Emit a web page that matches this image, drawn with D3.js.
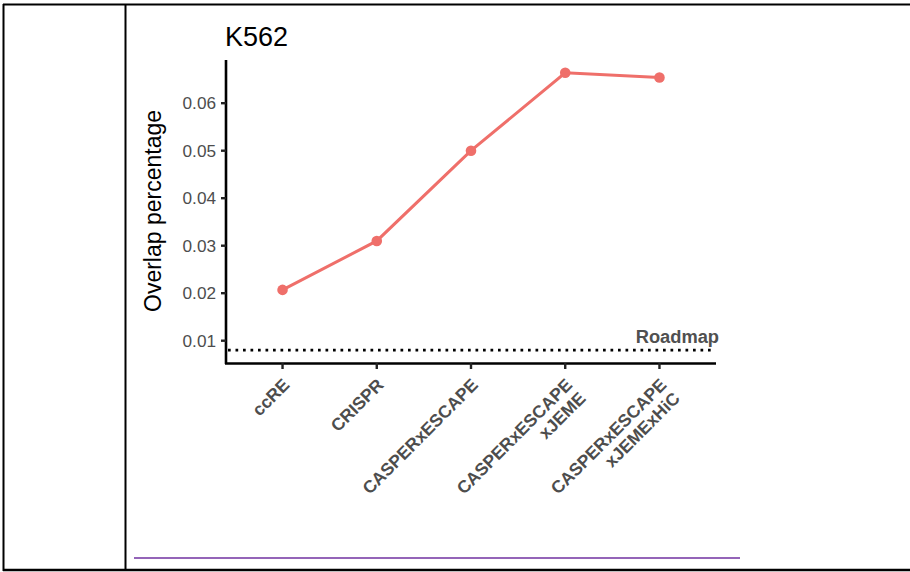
<!DOCTYPE html>
<html><head><meta charset="utf-8">
<script src="https://cdn.jsdelivr.net/npm/d3@7"></script>
<style>body{margin:0;background:#fff}svg{display:block}</style>
</head><body>
<svg id="c" width="910" height="572"></svg>
<script>
const categories = [["ccRE"],["CRISPR"],["CASPERxESCAPE"],["CASPERxESCAPE","xJEME"],["CASPERxESCAPE","xJEMExHiC"]];
const values = [0.0207, 0.031, 0.050, 0.0664, 0.0654];
const yTicks = [0.01, 0.02, 0.03, 0.04, 0.05, 0.06];
const roadmap = 0.0080;
const title = "K562";
const yLabel = "Overlap percentage";
const refLabel = "Roadmap";

const svg = d3.select("#c");
const font = "Arial, 'Liberation Sans', sans-serif";

// table frame
svg.append("line").attr("x1",3).attr("x2",910).attr("y1",4.5).attr("y2",4.5).attr("stroke","#000").attr("stroke-width",2);
svg.append("line").attr("x1",3.5).attr("x2",3.5).attr("y1",4).attr("y2",571).attr("stroke","#000").attr("stroke-width",2);
svg.append("line").attr("x1",125.5).attr("x2",125.5).attr("y1",4).attr("y2",571).attr("stroke","#000").attr("stroke-width",2);
svg.append("line").attr("x1",3).attr("x2",910).attr("y1",570).attr("y2",570).attr("stroke","#000").attr("stroke-width",2.5);
svg.append("line").attr("x1",134).attr("x2",740).attr("y1",558).attr("y2",558).attr("stroke","#7030a0").attr("stroke-width",1.3);

const x = d3.scalePoint().domain(d3.range(categories.length)).range([226,716]).padding(0.6);
const y = d3.scaleLinear().domain([0.0,0.01]).range([388.2,340.7]);

// axes
svg.append("line").attr("x1",226).attr("x2",226).attr("y1",60).attr("y2",364).attr("stroke","#000").attr("stroke-width",2.6);
svg.append("line").attr("x1",225).attr("x2",716).attr("y1",363.5).attr("y2",363.5).attr("stroke","#000").attr("stroke-width",2.6);

const yg = svg.append("g");
yTicks.forEach(t=>{
  yg.append("line").attr("x1",221).attr("x2",226).attr("y1",y(t)).attr("y2",y(t)).attr("stroke","#222").attr("stroke-width",2.4);
  yg.append("text").attr("x",216).attr("y",y(t)).attr("dy","0.36em").attr("text-anchor","end")
    .attr("font-family",font).attr("font-size",17.2).attr("fill","#4d4d4d").text(d3.format(".2f")(t));
});

const xg = svg.append("g");
categories.forEach((lines,i)=>{
  const px = x(i);
  xg.append("line").attr("x1",px).attr("x2",px).attr("y1",363).attr("y2",369).attr("stroke","#222").attr("stroke-width",2.4);
  const g = xg.append("g").attr("transform",`translate(${px+8},${386}) rotate(-45)`);
  lines.forEach((s,j)=>{
    g.append("text").attr("x",0).attr("y",j*19).attr("text-anchor","end")
      .attr("font-family",font).attr("font-size",17.5).attr("font-weight","bold").attr("fill","#4d4d4d").text(s);
  });
});

// reference line
svg.append("line").attr("x1",228).attr("x2",713).attr("y1",y(roadmap)).attr("y2",y(roadmap))
  .attr("stroke","#000").attr("stroke-width",2.7).attr("stroke-dasharray","2.7,4.8");
svg.append("text").attr("x",719).attr("y",y(roadmap)-7).attr("text-anchor","end")
  .attr("font-family",font).attr("font-size",18.3).attr("font-weight","bold").attr("fill","#505050").text(refLabel);

// series
const line = d3.line().x((d,i)=>x(i)).y(d=>y(d));
svg.append("path").datum(values).attr("d",line).attr("fill","none").attr("stroke","#ef6f6a").attr("stroke-width",3);
svg.selectAll("circle.pt").data(values).enter().append("circle")
  .attr("cx",(d,i)=>x(i)).attr("cy",d=>y(d)).attr("r",5.3).attr("fill","#ef6f6a");

// title & y label
svg.append("text").attr("x",225).attr("y",46).attr("font-family",font).attr("font-size",27).attr("fill","#000").text(title);
svg.append("text").attr("transform","translate(161,211) rotate(-90)").attr("text-anchor","middle")
  .attr("font-family",font).attr("font-size",23).attr("fill","#000").text(yLabel);
</script>
</body></html>
